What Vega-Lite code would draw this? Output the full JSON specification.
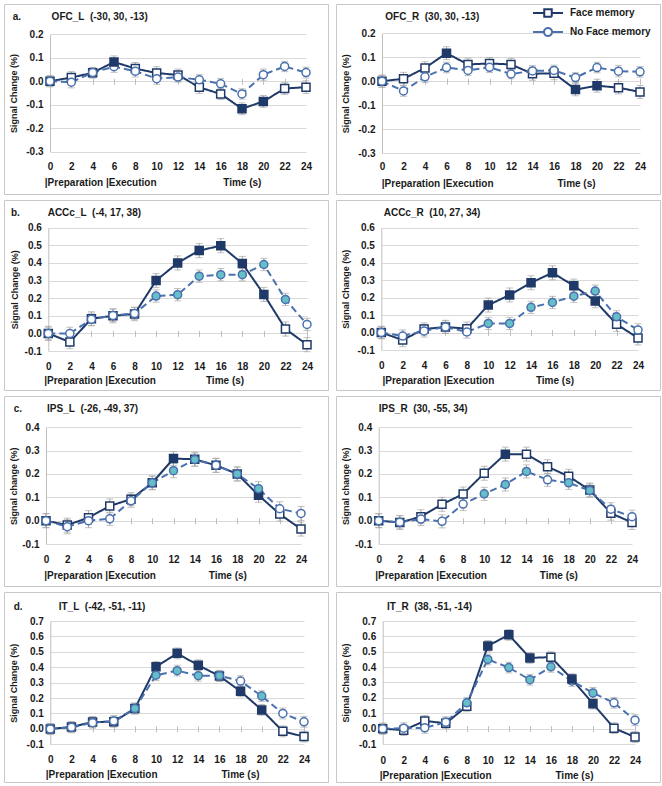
{
"$schema": "https://vega.github.io/schema/vega-lite/v6.json",
"padding": {"left": 3, "top": 3, "right": 0, "bottom": 0},
"background": "white",
"spacing": 4,
"config": {
 "font": "Liberation Sans",
 "view": {"stroke": "#c8c8c8", "strokeWidth": 1},
 "axis": {"labelFont": "Liberation Sans", "labelFontSize": 10, "labelFontWeight": "bold", "labelColor": "#1a1a1a", "titleFont": "Liberation Sans", "titleFontSize": 10, "titleFontWeight": "bold", "titleColor": "#1a1a1a", "labelFlush": false, "labelOverlap": false},
 "axisY": {"titleFontSize": 9},
 "point": {"size": 64},
 "title": {"font": "Liberation Sans", "fontSize": 10, "fontWeight": "bold", "color": "#1a1a1a", "anchor": "start", "frame": "group", "offset": -18},
 "locale": {"number": {"decimal": ".", "thousands": ",", "grouping": [3], "currency": ["$", ""], "minus": "-"}}
},
"datasets": {"d": [
{"p":"OFC_L","s":"Face memory","t":0,"v":0,"se":0.024,"sig":0},
{"p":"OFC_L","s":"Face memory","t":2,"v":0.016,"se":0.025,"sig":0},
{"p":"OFC_L","s":"Face memory","t":4,"v":0.036,"se":0.022,"sig":0},
{"p":"OFC_L","s":"Face memory","t":6,"v":0.082,"se":0.026,"sig":1},
{"p":"OFC_L","s":"Face memory","t":8,"v":0.054,"se":0.026,"sig":0},
{"p":"OFC_L","s":"Face memory","t":10,"v":0.035,"se":0.027,"sig":0},
{"p":"OFC_L","s":"Face memory","t":12,"v":0.027,"se":0.025,"sig":0},
{"p":"OFC_L","s":"Face memory","t":14,"v":-0.026,"se":0.026,"sig":0},
{"p":"OFC_L","s":"Face memory","t":16,"v":-0.054,"se":0.024,"sig":0},
{"p":"OFC_L","s":"Face memory","t":18,"v":-0.117,"se":0.025,"sig":1},
{"p":"OFC_L","s":"Face memory","t":20,"v":-0.086,"se":0.025,"sig":1},
{"p":"OFC_L","s":"Face memory","t":22,"v":-0.031,"se":0.025,"sig":0},
{"p":"OFC_L","s":"Face memory","t":24,"v":-0.025,"se":0.027,"sig":0},
{"p":"OFC_L","s":"No Face memory","t":0,"v":0,"se":0.022,"sig":0},
{"p":"OFC_L","s":"No Face memory","t":2,"v":-0.004,"se":0.024,"sig":0},
{"p":"OFC_L","s":"No Face memory","t":4,"v":0.037,"se":0.022,"sig":0},
{"p":"OFC_L","s":"No Face memory","t":6,"v":0.062,"se":0.024,"sig":0},
{"p":"OFC_L","s":"No Face memory","t":8,"v":0.043,"se":0.025,"sig":0},
{"p":"OFC_L","s":"No Face memory","t":10,"v":0.011,"se":0.024,"sig":0},
{"p":"OFC_L","s":"No Face memory","t":12,"v":0.018,"se":0.022,"sig":0},
{"p":"OFC_L","s":"No Face memory","t":14,"v":0.006,"se":0.022,"sig":0},
{"p":"OFC_L","s":"No Face memory","t":16,"v":-0.011,"se":0.023,"sig":0},
{"p":"OFC_L","s":"No Face memory","t":18,"v":-0.054,"se":0.022,"sig":0},
{"p":"OFC_L","s":"No Face memory","t":20,"v":0.028,"se":0.024,"sig":0},
{"p":"OFC_L","s":"No Face memory","t":22,"v":0.063,"se":0.022,"sig":0},
{"p":"OFC_L","s":"No Face memory","t":24,"v":0.037,"se":0.023,"sig":0},
{"p":"OFC_R","s":"Face memory","t":0,"v":0,"se":0.026,"sig":0},
{"p":"OFC_R","s":"Face memory","t":2,"v":0.01,"se":0.027,"sig":0},
{"p":"OFC_R","s":"Face memory","t":4,"v":0.055,"se":0.026,"sig":0},
{"p":"OFC_R","s":"Face memory","t":6,"v":0.117,"se":0.027,"sig":1},
{"p":"OFC_R","s":"Face memory","t":8,"v":0.07,"se":0.026,"sig":0},
{"p":"OFC_R","s":"Face memory","t":10,"v":0.074,"se":0.025,"sig":0},
{"p":"OFC_R","s":"Face memory","t":12,"v":0.07,"se":0.025,"sig":0},
{"p":"OFC_R","s":"Face memory","t":14,"v":0.031,"se":0.027,"sig":0},
{"p":"OFC_R","s":"Face memory","t":16,"v":0.033,"se":0.027,"sig":0},
{"p":"OFC_R","s":"Face memory","t":18,"v":-0.035,"se":0.026,"sig":1},
{"p":"OFC_R","s":"Face memory","t":20,"v":-0.019,"se":0.027,"sig":1},
{"p":"OFC_R","s":"Face memory","t":22,"v":-0.027,"se":0.026,"sig":0},
{"p":"OFC_R","s":"Face memory","t":24,"v":-0.045,"se":0.027,"sig":0},
{"p":"OFC_R","s":"No Face memory","t":0,"v":0,"se":0.024,"sig":0},
{"p":"OFC_R","s":"No Face memory","t":2,"v":-0.041,"se":0.022,"sig":0},
{"p":"OFC_R","s":"No Face memory","t":4,"v":0.018,"se":0.024,"sig":0},
{"p":"OFC_R","s":"No Face memory","t":6,"v":0.057,"se":0.022,"sig":0},
{"p":"OFC_R","s":"No Face memory","t":8,"v":0.045,"se":0.022,"sig":0},
{"p":"OFC_R","s":"No Face memory","t":10,"v":0.058,"se":0.022,"sig":0},
{"p":"OFC_R","s":"No Face memory","t":12,"v":0.03,"se":0.02,"sig":0},
{"p":"OFC_R","s":"No Face memory","t":14,"v":0.043,"se":0.022,"sig":0},
{"p":"OFC_R","s":"No Face memory","t":16,"v":0.045,"se":0.022,"sig":0},
{"p":"OFC_R","s":"No Face memory","t":18,"v":0.015,"se":0.02,"sig":0},
{"p":"OFC_R","s":"No Face memory","t":20,"v":0.057,"se":0.022,"sig":0},
{"p":"OFC_R","s":"No Face memory","t":22,"v":0.042,"se":0.024,"sig":0},
{"p":"OFC_R","s":"No Face memory","t":24,"v":0.039,"se":0.022,"sig":0},
{"p":"ACCc_L","s":"Face memory","t":0,"v":0,"se":0.04,"sig":0},
{"p":"ACCc_L","s":"Face memory","t":2,"v":-0.049,"se":0.038,"sig":0},
{"p":"ACCc_L","s":"Face memory","t":4,"v":0.083,"se":0.04,"sig":0},
{"p":"ACCc_L","s":"Face memory","t":6,"v":0.1,"se":0.04,"sig":0},
{"p":"ACCc_L","s":"Face memory","t":8,"v":0.11,"se":0.038,"sig":0},
{"p":"ACCc_L","s":"Face memory","t":10,"v":0.3,"se":0.04,"sig":1},
{"p":"ACCc_L","s":"Face memory","t":12,"v":0.4,"se":0.04,"sig":1},
{"p":"ACCc_L","s":"Face memory","t":14,"v":0.47,"se":0.04,"sig":1},
{"p":"ACCc_L","s":"Face memory","t":16,"v":0.498,"se":0.04,"sig":1},
{"p":"ACCc_L","s":"Face memory","t":18,"v":0.397,"se":0.04,"sig":1},
{"p":"ACCc_L","s":"Face memory","t":20,"v":0.221,"se":0.04,"sig":1},
{"p":"ACCc_L","s":"Face memory","t":22,"v":0.025,"se":0.04,"sig":0},
{"p":"ACCc_L","s":"Face memory","t":24,"v":-0.064,"se":0.04,"sig":0},
{"p":"ACCc_L","s":"No Face memory","t":0,"v":0,"se":0.035,"sig":0},
{"p":"ACCc_L","s":"No Face memory","t":2,"v":0,"se":0.035,"sig":0},
{"p":"ACCc_L","s":"No Face memory","t":4,"v":0.08,"se":0.035,"sig":0},
{"p":"ACCc_L","s":"No Face memory","t":6,"v":0.102,"se":0.035,"sig":0},
{"p":"ACCc_L","s":"No Face memory","t":8,"v":0.113,"se":0.035,"sig":0},
{"p":"ACCc_L","s":"No Face memory","t":10,"v":0.212,"se":0.035,"sig":1},
{"p":"ACCc_L","s":"No Face memory","t":12,"v":0.22,"se":0.035,"sig":1},
{"p":"ACCc_L","s":"No Face memory","t":14,"v":0.325,"se":0.035,"sig":1},
{"p":"ACCc_L","s":"No Face memory","t":16,"v":0.333,"se":0.035,"sig":1},
{"p":"ACCc_L","s":"No Face memory","t":18,"v":0.333,"se":0.035,"sig":1},
{"p":"ACCc_L","s":"No Face memory","t":20,"v":0.391,"se":0.035,"sig":1},
{"p":"ACCc_L","s":"No Face memory","t":22,"v":0.193,"se":0.035,"sig":1},
{"p":"ACCc_L","s":"No Face memory","t":24,"v":0.051,"se":0.035,"sig":0},
{"p":"ACCc_R","s":"Face memory","t":0,"v":0,"se":0.035,"sig":0},
{"p":"ACCc_R","s":"Face memory","t":2,"v":-0.043,"se":0.038,"sig":0},
{"p":"ACCc_R","s":"Face memory","t":4,"v":0.02,"se":0.035,"sig":0},
{"p":"ACCc_R","s":"Face memory","t":6,"v":0.032,"se":0.038,"sig":0},
{"p":"ACCc_R","s":"Face memory","t":8,"v":0.022,"se":0.038,"sig":0},
{"p":"ACCc_R","s":"Face memory","t":10,"v":0.157,"se":0.04,"sig":1},
{"p":"ACCc_R","s":"Face memory","t":12,"v":0.215,"se":0.04,"sig":1},
{"p":"ACCc_R","s":"Face memory","t":14,"v":0.285,"se":0.04,"sig":1},
{"p":"ACCc_R","s":"Face memory","t":16,"v":0.342,"se":0.04,"sig":1},
{"p":"ACCc_R","s":"Face memory","t":18,"v":0.268,"se":0.038,"sig":1},
{"p":"ACCc_R","s":"Face memory","t":20,"v":0.18,"se":0.038,"sig":1},
{"p":"ACCc_R","s":"Face memory","t":22,"v":0.047,"se":0.04,"sig":0},
{"p":"ACCc_R","s":"Face memory","t":24,"v":-0.031,"se":0.04,"sig":0},
{"p":"ACCc_R","s":"No Face memory","t":0,"v":0,"se":0.035,"sig":0},
{"p":"ACCc_R","s":"No Face memory","t":2,"v":-0.02,"se":0.035,"sig":0},
{"p":"ACCc_R","s":"No Face memory","t":4,"v":0.009,"se":0.035,"sig":0},
{"p":"ACCc_R","s":"No Face memory","t":6,"v":0.032,"se":0.035,"sig":0},
{"p":"ACCc_R","s":"No Face memory","t":8,"v":0.003,"se":0.035,"sig":0},
{"p":"ACCc_R","s":"No Face memory","t":10,"v":0.052,"se":0.035,"sig":1},
{"p":"ACCc_R","s":"No Face memory","t":12,"v":0.052,"se":0.035,"sig":1},
{"p":"ACCc_R","s":"No Face memory","t":14,"v":0.144,"se":0.035,"sig":1},
{"p":"ACCc_R","s":"No Face memory","t":16,"v":0.172,"se":0.035,"sig":1},
{"p":"ACCc_R","s":"No Face memory","t":18,"v":0.208,"se":0.035,"sig":1},
{"p":"ACCc_R","s":"No Face memory","t":20,"v":0.237,"se":0.035,"sig":1},
{"p":"ACCc_R","s":"No Face memory","t":22,"v":0.09,"se":0.035,"sig":1},
{"p":"ACCc_R","s":"No Face memory","t":24,"v":0.015,"se":0.035,"sig":0},
{"p":"IPS_L","s":"Face memory","t":0,"v":0,"se":0.03,"sig":0},
{"p":"IPS_L","s":"Face memory","t":2,"v":-0.019,"se":0.03,"sig":0},
{"p":"IPS_L","s":"Face memory","t":4,"v":0.013,"se":0.03,"sig":0},
{"p":"IPS_L","s":"Face memory","t":6,"v":0.063,"se":0.03,"sig":0},
{"p":"IPS_L","s":"Face memory","t":8,"v":0.092,"se":0.028,"sig":0},
{"p":"IPS_L","s":"Face memory","t":10,"v":0.162,"se":0.03,"sig":0},
{"p":"IPS_L","s":"Face memory","t":12,"v":0.266,"se":0.03,"sig":1},
{"p":"IPS_L","s":"Face memory","t":14,"v":0.263,"se":0.03,"sig":0},
{"p":"IPS_L","s":"Face memory","t":16,"v":0.237,"se":0.03,"sig":0},
{"p":"IPS_L","s":"Face memory","t":18,"v":0.2,"se":0.03,"sig":0},
{"p":"IPS_L","s":"Face memory","t":20,"v":0.109,"se":0.03,"sig":1},
{"p":"IPS_L","s":"Face memory","t":22,"v":0.028,"se":0.03,"sig":0},
{"p":"IPS_L","s":"Face memory","t":24,"v":-0.036,"se":0.03,"sig":0},
{"p":"IPS_L","s":"No Face memory","t":0,"v":0,"se":0.03,"sig":0},
{"p":"IPS_L","s":"No Face memory","t":2,"v":-0.026,"se":0.03,"sig":0},
{"p":"IPS_L","s":"No Face memory","t":4,"v":0,"se":0.03,"sig":0},
{"p":"IPS_L","s":"No Face memory","t":6,"v":0.008,"se":0.028,"sig":0},
{"p":"IPS_L","s":"No Face memory","t":8,"v":0.085,"se":0.028,"sig":0},
{"p":"IPS_L","s":"No Face memory","t":10,"v":0.162,"se":0.028,"sig":1},
{"p":"IPS_L","s":"No Face memory","t":12,"v":0.214,"se":0.03,"sig":1},
{"p":"IPS_L","s":"No Face memory","t":14,"v":0.262,"se":0.028,"sig":1},
{"p":"IPS_L","s":"No Face memory","t":16,"v":0.237,"se":0.03,"sig":0},
{"p":"IPS_L","s":"No Face memory","t":18,"v":0.2,"se":0.03,"sig":1},
{"p":"IPS_L","s":"No Face memory","t":20,"v":0.137,"se":0.03,"sig":1},
{"p":"IPS_L","s":"No Face memory","t":22,"v":0.051,"se":0.03,"sig":0},
{"p":"IPS_L","s":"No Face memory","t":24,"v":0.031,"se":0.03,"sig":0},
{"p":"IPS_R","s":"Face memory","t":0,"v":0,"se":0.03,"sig":0},
{"p":"IPS_R","s":"Face memory","t":2,"v":-0.008,"se":0.03,"sig":0},
{"p":"IPS_R","s":"Face memory","t":4,"v":0.017,"se":0.03,"sig":0},
{"p":"IPS_R","s":"Face memory","t":6,"v":0.07,"se":0.03,"sig":0},
{"p":"IPS_R","s":"Face memory","t":8,"v":0.114,"se":0.03,"sig":0},
{"p":"IPS_R","s":"Face memory","t":10,"v":0.203,"se":0.03,"sig":0},
{"p":"IPS_R","s":"Face memory","t":12,"v":0.285,"se":0.03,"sig":1},
{"p":"IPS_R","s":"Face memory","t":14,"v":0.285,"se":0.03,"sig":0},
{"p":"IPS_R","s":"Face memory","t":16,"v":0.231,"se":0.03,"sig":0},
{"p":"IPS_R","s":"Face memory","t":18,"v":0.19,"se":0.03,"sig":0},
{"p":"IPS_R","s":"Face memory","t":20,"v":0.131,"se":0.03,"sig":0},
{"p":"IPS_R","s":"Face memory","t":22,"v":0.032,"se":0.03,"sig":0},
{"p":"IPS_R","s":"Face memory","t":24,"v":-0.008,"se":0.03,"sig":0},
{"p":"IPS_R","s":"No Face memory","t":0,"v":0,"se":0.03,"sig":0},
{"p":"IPS_R","s":"No Face memory","t":2,"v":-0.007,"se":0.028,"sig":0},
{"p":"IPS_R","s":"No Face memory","t":4,"v":0.007,"se":0.028,"sig":0},
{"p":"IPS_R","s":"No Face memory","t":6,"v":-0.003,"se":0.028,"sig":0},
{"p":"IPS_R","s":"No Face memory","t":8,"v":0.071,"se":0.028,"sig":0},
{"p":"IPS_R","s":"No Face memory","t":10,"v":0.115,"se":0.028,"sig":1},
{"p":"IPS_R","s":"No Face memory","t":12,"v":0.155,"se":0.028,"sig":1},
{"p":"IPS_R","s":"No Face memory","t":14,"v":0.211,"se":0.028,"sig":1},
{"p":"IPS_R","s":"No Face memory","t":16,"v":0.175,"se":0.028,"sig":0},
{"p":"IPS_R","s":"No Face memory","t":18,"v":0.162,"se":0.028,"sig":1},
{"p":"IPS_R","s":"No Face memory","t":20,"v":0.129,"se":0.028,"sig":1},
{"p":"IPS_R","s":"No Face memory","t":22,"v":0.049,"se":0.028,"sig":0},
{"p":"IPS_R","s":"No Face memory","t":24,"v":0.017,"se":0.028,"sig":0},
{"p":"IT_L","s":"Face memory","t":0,"v":0,"se":0.035,"sig":0},
{"p":"IT_L","s":"Face memory","t":2,"v":0.012,"se":0.035,"sig":0},
{"p":"IT_L","s":"Face memory","t":4,"v":0.045,"se":0.035,"sig":0},
{"p":"IT_L","s":"Face memory","t":6,"v":0.046,"se":0.035,"sig":0},
{"p":"IT_L","s":"Face memory","t":8,"v":0.132,"se":0.035,"sig":0},
{"p":"IT_L","s":"Face memory","t":10,"v":0.403,"se":0.035,"sig":1},
{"p":"IT_L","s":"Face memory","t":12,"v":0.49,"se":0.035,"sig":1},
{"p":"IT_L","s":"Face memory","t":14,"v":0.413,"se":0.035,"sig":1},
{"p":"IT_L","s":"Face memory","t":16,"v":0.343,"se":0.035,"sig":0},
{"p":"IT_L","s":"Face memory","t":18,"v":0.244,"se":0.035,"sig":1},
{"p":"IT_L","s":"Face memory","t":20,"v":0.123,"se":0.035,"sig":1},
{"p":"IT_L","s":"Face memory","t":22,"v":-0.016,"se":0.035,"sig":0},
{"p":"IT_L","s":"Face memory","t":24,"v":-0.05,"se":0.035,"sig":0},
{"p":"IT_L","s":"No Face memory","t":0,"v":0,"se":0.035,"sig":0},
{"p":"IT_L","s":"No Face memory","t":2,"v":0.01,"se":0.035,"sig":0},
{"p":"IT_L","s":"No Face memory","t":4,"v":0.04,"se":0.035,"sig":0},
{"p":"IT_L","s":"No Face memory","t":6,"v":0.051,"se":0.035,"sig":0},
{"p":"IT_L","s":"No Face memory","t":8,"v":0.132,"se":0.035,"sig":1},
{"p":"IT_L","s":"No Face memory","t":10,"v":0.348,"se":0.035,"sig":1},
{"p":"IT_L","s":"No Face memory","t":12,"v":0.378,"se":0.035,"sig":1},
{"p":"IT_L","s":"No Face memory","t":14,"v":0.345,"se":0.035,"sig":1},
{"p":"IT_L","s":"No Face memory","t":16,"v":0.345,"se":0.035,"sig":1},
{"p":"IT_L","s":"No Face memory","t":18,"v":0.31,"se":0.035,"sig":0},
{"p":"IT_L","s":"No Face memory","t":20,"v":0.213,"se":0.035,"sig":1},
{"p":"IT_L","s":"No Face memory","t":22,"v":0.1,"se":0.035,"sig":0},
{"p":"IT_L","s":"No Face memory","t":24,"v":0.046,"se":0.035,"sig":0},
{"p":"IT_R","s":"Face memory","t":0,"v":0,"se":0.035,"sig":0},
{"p":"IT_R","s":"Face memory","t":2,"v":-0.01,"se":0.035,"sig":0},
{"p":"IT_R","s":"Face memory","t":4,"v":0.05,"se":0.035,"sig":0},
{"p":"IT_R","s":"Face memory","t":6,"v":0.035,"se":0.035,"sig":0},
{"p":"IT_R","s":"Face memory","t":8,"v":0.145,"se":0.035,"sig":0},
{"p":"IT_R","s":"Face memory","t":10,"v":0.538,"se":0.035,"sig":1},
{"p":"IT_R","s":"Face memory","t":12,"v":0.61,"se":0.035,"sig":1},
{"p":"IT_R","s":"Face memory","t":14,"v":0.46,"se":0.035,"sig":1},
{"p":"IT_R","s":"Face memory","t":16,"v":0.465,"se":0.035,"sig":0},
{"p":"IT_R","s":"Face memory","t":18,"v":0.322,"se":0.035,"sig":1},
{"p":"IT_R","s":"Face memory","t":20,"v":0.162,"se":0.035,"sig":1},
{"p":"IT_R","s":"Face memory","t":22,"v":0.003,"se":0.035,"sig":0},
{"p":"IT_R","s":"Face memory","t":24,"v":-0.055,"se":0.035,"sig":0},
{"p":"IT_R","s":"No Face memory","t":0,"v":0,"se":0.035,"sig":0},
{"p":"IT_R","s":"No Face memory","t":2,"v":0.003,"se":0.035,"sig":0},
{"p":"IT_R","s":"No Face memory","t":4,"v":0.005,"se":0.035,"sig":0},
{"p":"IT_R","s":"No Face memory","t":6,"v":0.042,"se":0.035,"sig":0},
{"p":"IT_R","s":"No Face memory","t":8,"v":0.168,"se":0.035,"sig":1},
{"p":"IT_R","s":"No Face memory","t":10,"v":0.45,"se":0.035,"sig":1},
{"p":"IT_R","s":"No Face memory","t":12,"v":0.397,"se":0.035,"sig":1},
{"p":"IT_R","s":"No Face memory","t":14,"v":0.318,"se":0.035,"sig":1},
{"p":"IT_R","s":"No Face memory","t":16,"v":0.402,"se":0.035,"sig":1},
{"p":"IT_R","s":"No Face memory","t":18,"v":0.31,"se":0.035,"sig":0},
{"p":"IT_R","s":"No Face memory","t":20,"v":0.232,"se":0.035,"sig":1},
{"p":"IT_R","s":"No Face memory","t":22,"v":0.168,"se":0.035,"sig":0},
{"p":"IT_R","s":"No Face memory","t":24,"v":0.055,"se":0.035,"sig":0}
]},
"resolve": {"scale": {"stroke": "independent", "fill": "independent", "shape": "independent", "strokeDash": "independent"}},
"vconcat": [
{"hconcat": [
 {"width": 324, "height": 190, "data": {"name": "d"},
  "title": {"text": "a.\u00a0\u00a0\u00a0\u00a0\u00a0\u00a0\u00a0\u00a0\u00a0\u00a0\u00a0OFC_L\u00a0\u00a0(-30, 30, -13)", "dx": 8.7},
  "transform": [{"filter": "datum.p === 'OFC_L'"}],
  "encoding": {
   "x": {"field": "t", "type": "quantitative", "scale": {"domain": [0, 24], "range": [46, 302], "nice": false, "zero": false}},
   "y": {"field": "v", "type": "quantitative", "scale": {"domain": [-0.3, 0.2], "range": [147.7, 30.3], "nice": false, "zero": false},
     "axis": {"orient": "left", "offset": -46, "values": [-0.3,-0.2,-0.1,0,0.1,0.2], "format": ".1f", "grid": true, "gridColor": "#d9d9d9", "domain": true, "domainColor": "#bfbfbf", "ticks": false, "tickSize": 0, "labelPadding": 7, "title": "Signal Change (%)", "titleX": -37, "titleBaseline": "middle"}}
  },
  "layer": [
   {"mark": {"type": "errorbar", "color": "#a6a6a6", "thickness": 1, "ticks": {"size": 7}},
    "encoding": {"x": {"field": "t", "type": "quantitative", "axis": {"orient": "bottom", "labels": false, "ticks": false, "domain": false, "grid": false, "title": null}}, "yError": {"field": "se"}}},
   {"mark": {"type": "line", "strokeWidth": 2},
    "encoding": {"x": {"field": "t", "type": "quantitative",
      "axis": {"orient": "bottom", "offset": -28, "values": [0,2,4,6,8,10,12,14,16,18,20,22,24], "domain": false, "ticks": false, "tickSize": 0, "grid": false, "labelPadding": 0, "labelBaseline": "middle", "title": "|Preparation |Execution\u00a0\u00a0\u00a0\u00a0\u00a0\u00a0\u00a0\u00a0\u00a0\u00a0\u00a0\u00a0\u00a0\u00a0\u00a0\u00a0\u00a0\u00a0\u00a0\u00a0\u00a0\u00a0\u00a0\u00a0Time (s)", "titleX": 40.3, "titleY": 16.7, "titleAlign": "left", "titleAnchor": "start", "titleBaseline": "middle"}},
     "stroke": {"field": "s", "type": "nominal", "scale": {"domain": ["Face memory", "No Face memory"], "range": ["#1f3a68", "#4a70ae"]}, "legend": null},
     "strokeDash": {"field": "s", "type": "nominal", "scale": {"domain": ["No Face memory", "Face memory"], "range": [[7,4],[1,0]]}, "legend": null}}},
   {"transform": [{"filter": "datum.sig == 0"}],
    "mark": {"type": "point", "filled": true, "fill": "white", "opacity": 1, "strokeWidth": 1.5},
    "encoding": {"x": {"field": "t", "type": "quantitative",
      "axis": {"orient": "bottom", "offset": -115.7, "values": [0,2,4,6,8,10,12,14,16,18,20,22,24], "labels": false, "domain": false, "grid": false, "ticks": true, "tickSize": 6, "tickColor": "#bfbfbf", "title": null}},
     "shape": {"field": "s", "type": "nominal", "scale": {"domain": ["No Face memory", "Face memory"], "range": ["circle", "square"]}, "legend": null},
     "stroke": {"field": "s", "type": "nominal", "scale": {"domain": ["Face memory", "No Face memory"], "range": ["#1f3a68", "#4a70ae"]}, "legend": null}}},
   {"transform": [{"filter": "datum.sig == 1"}],
    "mark": {"type": "point", "filled": true, "opacity": 1, "strokeWidth": 1.5},
    "encoding": {"x": {"field": "t", "type": "quantitative", "axis": {"orient": "bottom", "labels": false, "ticks": false, "domain": false, "grid": false, "title": null}},
     "shape": {"field": "s", "type": "nominal", "scale": {"domain": ["No Face memory", "Face memory"], "range": ["circle", "square"]}, "legend": null},
     "stroke": {"field": "s", "type": "nominal", "scale": {"domain": ["Face memory", "No Face memory"], "range": ["#1f3a68", "#4a70ae"]}, "legend": null},
     "fill": {"field": "s", "type": "nominal", "scale": {"domain": ["No Face memory", "Face memory"], "range": ["#66bec8", "#1f3a68"]}, "legend": null}}}
  ],
  "resolve": {"axis": {"x": "independent"}}
 },
 {"width": 324, "height": 190, "data": {"name": "d"},
  "title": {"text": "OFC_R\u00a0\u00a0(30, 30, -13)", "dx": 49.3},
  "transform": [{"filter": "datum.p === 'OFC_R'"}],
  "encoding": {
   "x": {"field": "t", "type": "quantitative", "scale": {"domain": [0, 24], "range": [46, 304], "nice": false, "zero": false}},
   "y": {"field": "v", "type": "quantitative", "scale": {"domain": [-0.3, 0.2], "range": [149, 29.3], "nice": false, "zero": false},
     "axis": {"orient": "left", "offset": -46, "values": [-0.3,-0.2,-0.1,0,0.1,0.2], "format": ".1f", "grid": true, "gridColor": "#d9d9d9", "domain": true, "domainColor": "#bfbfbf", "ticks": false, "tickSize": 0, "labelPadding": 7, "title": "Signal Change (%)", "titleX": -37, "titleBaseline": "middle"}}
  },
  "layer": [
   {"mark": {"type": "errorbar", "color": "#a6a6a6", "thickness": 1, "ticks": {"size": 7}},
    "encoding": {"x": {"field": "t", "type": "quantitative", "axis": {"orient": "bottom", "labels": false, "ticks": false, "domain": false, "grid": false, "title": null}}, "yError": {"field": "se"}}},
   {"mark": {"type": "line", "strokeWidth": 2},
    "encoding": {"x": {"field": "t", "type": "quantitative",
      "axis": {"orient": "bottom", "offset": -27.3, "values": [0,2,4,6,8,10,12,14,16,18,20,22,24], "domain": false, "ticks": false, "tickSize": 0, "grid": false, "labelPadding": 0, "labelBaseline": "middle", "title": "|Preparation |Execution\u00a0\u00a0\u00a0\u00a0\u00a0\u00a0\u00a0\u00a0\u00a0\u00a0\u00a0\u00a0\u00a0\u00a0\u00a0\u00a0\u00a0\u00a0\u00a0\u00a0\u00a0\u00a0\u00a0Time (s)", "titleX": 45.3, "titleY": 17, "titleAlign": "left", "titleAnchor": "start", "titleBaseline": "middle"}},
     "stroke": {"field": "s", "type": "nominal", "scale": {"domain": ["Face memory", "No Face memory"], "range": ["#1f3a68", "#4a70ae"]},
      "legend": {"orient": "none", "legendX": 206, "legendY": 3, "title": null, "padding": 0, "symbolSize": 100, "symbolStrokeWidth": 2, "labelOffset": 16, "labelFontSize": 10, "labelFont": "Liberation Sans", "labelFontWeight": "bold", "labelColor": "#1a1a1a", "rowPadding": 3,
       "encode": {"symbols": {"update": {"shape": {"signal": "datum.value === 'Face memory' ? 'M-3,0H-0.75M0.75,0H3M-0.75,-0.75H0.75V0.75H-0.75Z' : 'M-3,0H-0.8M0.8,0H3M0.8,0A0.8,0.8,0,1,1,-0.8,0A0.8,0.8,0,1,1,0.8,0Z'"}, "fill": {"value": "white"}, "strokeDash": {"value": [1,0]}}}}}},
     "strokeDash": {"field": "s", "type": "nominal", "scale": {"domain": ["No Face memory", "Face memory"], "range": [[7,4],[1,0]]}, "legend": null}}},
   {"transform": [{"filter": "datum.sig == 0"}],
    "mark": {"type": "point", "filled": true, "fill": "white", "opacity": 1, "strokeWidth": 1.5},
    "encoding": {"x": {"field": "t", "type": "quantitative",
      "axis": {"orient": "bottom", "offset": -115.8, "values": [0,2,4,6,8,10,12,14,16,18,20,22,24], "labels": false, "domain": false, "grid": false, "ticks": true, "tickSize": 6, "tickColor": "#bfbfbf", "title": null}},
     "shape": {"field": "s", "type": "nominal", "scale": {"domain": ["No Face memory", "Face memory"], "range": ["circle", "square"]}, "legend": null},
     "stroke": {"field": "s", "type": "nominal", "scale": {"domain": ["Face memory", "No Face memory"], "range": ["#1f3a68", "#4a70ae"]}, "legend": null}}},
   {"transform": [{"filter": "datum.sig == 1"}],
    "mark": {"type": "point", "filled": true, "opacity": 1, "strokeWidth": 1.5},
    "encoding": {"x": {"field": "t", "type": "quantitative", "axis": {"orient": "bottom", "labels": false, "ticks": false, "domain": false, "grid": false, "title": null}},
     "shape": {"field": "s", "type": "nominal", "scale": {"domain": ["No Face memory", "Face memory"], "range": ["circle", "square"]}, "legend": null},
     "stroke": {"field": "s", "type": "nominal", "scale": {"domain": ["Face memory", "No Face memory"], "range": ["#1f3a68", "#4a70ae"]}, "legend": null},
     "fill": {"field": "s", "type": "nominal", "scale": {"domain": ["No Face memory", "Face memory"], "range": ["#66bec8", "#1f3a68"]}, "legend": null}}}
  ],
  "resolve": {"axis": {"x": "independent"}}
 }
], "spacing": 6, "resolve": {"scale": {"stroke": "independent", "fill": "independent", "shape": "independent", "strokeDash": "independent"}}},
{"hconcat": [
 {"width": 324, "height": 190, "data": {"name": "d"},
  "title": {"text": "b.\u00a0\u00a0\u00a0\u00a0\u00a0\u00a0\u00a0\u00a0\u00a0\u00a0ACCc_L\u00a0\u00a0(-4, 17, 38)", "dx": 7},
  "transform": [{"filter": "datum.p === 'ACCc_L'"}],
  "encoding": {
   "x": {"field": "t", "type": "quantitative", "scale": {"domain": [0, 24], "range": [44.3, 303], "nice": false, "zero": false}},
   "y": {"field": "v", "type": "quantitative", "scale": {"domain": [-0.1, 0.6], "range": [151, 27.7], "nice": false, "zero": false},
     "axis": {"orient": "left", "offset": -44.3, "values": [-0.1,0,0.1,0.2,0.3,0.4,0.5,0.6], "format": ".1f", "grid": true, "gridColor": "#d9d9d9", "domain": true, "domainColor": "#bfbfbf", "ticks": false, "tickSize": 0, "labelPadding": 7, "title": "Signal Change (%)", "titleX": -34, "titleBaseline": "middle"}}
  },
  "layer": [
   {"mark": {"type": "errorbar", "color": "#a6a6a6", "thickness": 1, "ticks": {"size": 7}},
    "encoding": {"x": {"field": "t", "type": "quantitative", "axis": {"orient": "bottom", "labels": false, "ticks": false, "domain": false, "grid": false, "title": null}}, "yError": {"field": "se"}}},
   {"mark": {"type": "line", "strokeWidth": 2},
    "encoding": {"x": {"field": "t", "type": "quantitative",
      "axis": {"orient": "bottom", "offset": -24, "values": [0,2,4,6,8,10,12,14,16,18,20,22,24], "domain": false, "ticks": false, "tickSize": 0, "grid": false, "labelPadding": 0, "labelBaseline": "middle", "title": "|Preparation |Execution\u00a0\u00a0\u00a0\u00a0\u00a0\u00a0\u00a0\u00a0\u00a0\u00a0\u00a0\u00a0\u00a0\u00a0\u00a0\u00a0\u00a0\u00a0Time (s)", "titleX": 39.7, "titleY": 14.3, "titleAlign": "left", "titleAnchor": "start", "titleBaseline": "middle"}},
     "stroke": {"field": "s", "type": "nominal", "scale": {"domain": ["Face memory", "No Face memory"], "range": ["#1f3a68", "#4a70ae"]}, "legend": null},
     "strokeDash": {"field": "s", "type": "nominal", "scale": {"domain": ["No Face memory", "Face memory"], "range": [[7,4],[1,0]]}, "legend": null}}},
   {"transform": [{"filter": "datum.sig == 0"}],
    "mark": {"type": "point", "filled": true, "fill": "white", "opacity": 1, "strokeWidth": 1.5},
    "encoding": {"x": {"field": "t", "type": "quantitative",
      "axis": {"orient": "bottom", "offset": -59.6, "values": [0,2,4,6,8,10,12,14,16,18,20,22,24], "labels": false, "domain": false, "grid": false, "ticks": true, "tickSize": 6, "tickColor": "#bfbfbf", "title": null}},
     "shape": {"field": "s", "type": "nominal", "scale": {"domain": ["No Face memory", "Face memory"], "range": ["circle", "square"]}, "legend": null},
     "stroke": {"field": "s", "type": "nominal", "scale": {"domain": ["Face memory", "No Face memory"], "range": ["#1f3a68", "#4a70ae"]}, "legend": null}}},
   {"transform": [{"filter": "datum.sig == 1"}],
    "mark": {"type": "point", "filled": true, "opacity": 1, "strokeWidth": 1.5},
    "encoding": {"x": {"field": "t", "type": "quantitative", "axis": {"orient": "bottom", "labels": false, "ticks": false, "domain": false, "grid": false, "title": null}},
     "shape": {"field": "s", "type": "nominal", "scale": {"domain": ["No Face memory", "Face memory"], "range": ["circle", "square"]}, "legend": null},
     "stroke": {"field": "s", "type": "nominal", "scale": {"domain": ["Face memory", "No Face memory"], "range": ["#1f3a68", "#4a70ae"]}, "legend": null},
     "fill": {"field": "s", "type": "nominal", "scale": {"domain": ["No Face memory", "Face memory"], "range": ["#66bec8", "#1f3a68"]}, "legend": null}}}
  ],
  "resolve": {"axis": {"x": "independent"}}
 },
 {"width": 324, "height": 190, "data": {"name": "d"},
  "title": {"text": "ACCc_R\u00a0\u00a0(10, 27, 34)", "dx": 47.7},
  "transform": [{"filter": "datum.p === 'ACCc_R'"}],
  "encoding": {
   "x": {"field": "t", "type": "quantitative", "scale": {"domain": [0, 24], "range": [45.3, 302], "nice": false, "zero": false}},
   "y": {"field": "v", "type": "quantitative", "scale": {"domain": [-0.1, 0.6], "range": [150, 27.7], "nice": false, "zero": false},
     "axis": {"orient": "left", "offset": -45.3, "values": [-0.1,0,0.1,0.2,0.3,0.4,0.5,0.6], "format": ".1f", "grid": true, "gridColor": "#d9d9d9", "domain": true, "domainColor": "#bfbfbf", "ticks": false, "tickSize": 0, "labelPadding": 7, "title": "Signal Change (%)", "titleX": -36, "titleBaseline": "middle"}}
  },
  "layer": [
   {"mark": {"type": "errorbar", "color": "#a6a6a6", "thickness": 1, "ticks": {"size": 7}},
    "encoding": {"x": {"field": "t", "type": "quantitative", "axis": {"orient": "bottom", "labels": false, "ticks": false, "domain": false, "grid": false, "title": null}}, "yError": {"field": "se"}}},
   {"mark": {"type": "line", "strokeWidth": 2},
    "encoding": {"x": {"field": "t", "type": "quantitative",
      "axis": {"orient": "bottom", "offset": -24.7, "values": [0,2,4,6,8,10,12,14,16,18,20,22,24], "domain": false, "ticks": false, "tickSize": 0, "grid": false, "labelPadding": 0, "labelBaseline": "middle", "title": "|Preparation |Execution\u00a0\u00a0\u00a0\u00a0\u00a0\u00a0\u00a0\u00a0\u00a0\u00a0\u00a0\u00a0\u00a0\u00a0\u00a0Time (s)", "titleX": 46, "titleY": 14.7, "titleAlign": "left", "titleAnchor": "start", "titleBaseline": "middle"}},
     "stroke": {"field": "s", "type": "nominal", "scale": {"domain": ["Face memory", "No Face memory"], "range": ["#1f3a68", "#4a70ae"]}, "legend": null},
     "strokeDash": {"field": "s", "type": "nominal", "scale": {"domain": ["No Face memory", "Face memory"], "range": [[7,4],[1,0]]}, "legend": null}}},
   {"transform": [{"filter": "datum.sig == 0"}],
    "mark": {"type": "point", "filled": true, "fill": "white", "opacity": 1, "strokeWidth": 1.5},
    "encoding": {"x": {"field": "t", "type": "quantitative",
      "axis": {"orient": "bottom", "offset": -60.5, "values": [0,2,4,6,8,10,12,14,16,18,20,22,24], "labels": false, "domain": false, "grid": false, "ticks": true, "tickSize": 6, "tickColor": "#bfbfbf", "title": null}},
     "shape": {"field": "s", "type": "nominal", "scale": {"domain": ["No Face memory", "Face memory"], "range": ["circle", "square"]}, "legend": null},
     "stroke": {"field": "s", "type": "nominal", "scale": {"domain": ["Face memory", "No Face memory"], "range": ["#1f3a68", "#4a70ae"]}, "legend": null}}},
   {"transform": [{"filter": "datum.sig == 1"}],
    "mark": {"type": "point", "filled": true, "opacity": 1, "strokeWidth": 1.5},
    "encoding": {"x": {"field": "t", "type": "quantitative", "axis": {"orient": "bottom", "labels": false, "ticks": false, "domain": false, "grid": false, "title": null}},
     "shape": {"field": "s", "type": "nominal", "scale": {"domain": ["No Face memory", "Face memory"], "range": ["circle", "square"]}, "legend": null},
     "stroke": {"field": "s", "type": "nominal", "scale": {"domain": ["Face memory", "No Face memory"], "range": ["#1f3a68", "#4a70ae"]}, "legend": null},
     "fill": {"field": "s", "type": "nominal", "scale": {"domain": ["No Face memory", "Face memory"], "range": ["#66bec8", "#1f3a68"]}, "legend": null}}}
  ],
  "resolve": {"axis": {"x": "independent"}}
 }
], "spacing": 6, "resolve": {"scale": {"stroke": "independent", "fill": "independent", "shape": "independent", "strokeDash": "independent"}}},
{"hconcat": [
 {"width": 324, "height": 190, "data": {"name": "d"},
  "title": {"text": "c.\u00a0\u00a0\u00a0\u00a0\u00a0\u00a0\u00a0\u00a0\u00a0IPS_L\u00a0\u00a0(-26, -49, 37)", "dx": 9.7},
  "transform": [{"filter": "datum.p === 'IPS_L'"}],
  "encoding": {
   "x": {"field": "t", "type": "quantitative", "scale": {"domain": [0, 24], "range": [42, 297], "nice": false, "zero": false}},
   "y": {"field": "v", "type": "quantitative", "scale": {"domain": [-0.1, 0.4], "range": [148, 31.3], "nice": false, "zero": false},
     "axis": {"orient": "left", "offset": -42, "values": [-0.1,0,0.1,0.2,0.3,0.4], "format": ".1f", "grid": true, "gridColor": "#d9d9d9", "domain": true, "domainColor": "#bfbfbf", "ticks": false, "tickSize": 0, "labelPadding": 7, "title": "Signal change (%)", "titleX": -32.5, "titleBaseline": "middle"}}
  },
  "layer": [
   {"mark": {"type": "errorbar", "color": "#a6a6a6", "thickness": 1, "ticks": {"size": 7}},
    "encoding": {"x": {"field": "t", "type": "quantitative", "axis": {"orient": "bottom", "labels": false, "ticks": false, "domain": false, "grid": false, "title": null}}, "yError": {"field": "se"}}},
   {"mark": {"type": "line", "strokeWidth": 2},
    "encoding": {"x": {"field": "t", "type": "quantitative",
      "axis": {"orient": "bottom", "offset": -26.7, "values": [0,2,4,6,8,10,12,14,16,18,20,22,24], "domain": false, "ticks": false, "tickSize": 0, "grid": false, "labelPadding": 0, "labelBaseline": "middle", "title": "|Preparation |Execution\u00a0\u00a0\u00a0\u00a0\u00a0\u00a0\u00a0\u00a0\u00a0\u00a0\u00a0\u00a0\u00a0\u00a0\u00a0\u00a0\u00a0\u00a0\u00a0Time (s)", "titleX": 39.7, "titleY": 16.4, "titleAlign": "left", "titleAnchor": "start", "titleBaseline": "middle"}},
     "stroke": {"field": "s", "type": "nominal", "scale": {"domain": ["Face memory", "No Face memory"], "range": ["#1f3a68", "#4a70ae"]}, "legend": null},
     "strokeDash": {"field": "s", "type": "nominal", "scale": {"domain": ["No Face memory", "Face memory"], "range": [[7,4],[1,0]]}, "legend": null}}},
   {"transform": [{"filter": "datum.sig == 0"}],
    "mark": {"type": "point", "filled": true, "fill": "white", "opacity": 1, "strokeWidth": 1.5},
    "encoding": {"x": {"field": "t", "type": "quantitative",
      "axis": {"orient": "bottom", "offset": -68.3, "values": [0,2,4,6,8,10,12,14,16,18,20,22,24], "labels": false, "domain": false, "grid": false, "ticks": true, "tickSize": 6, "tickColor": "#bfbfbf", "title": null}},
     "shape": {"field": "s", "type": "nominal", "scale": {"domain": ["No Face memory", "Face memory"], "range": ["circle", "square"]}, "legend": null},
     "stroke": {"field": "s", "type": "nominal", "scale": {"domain": ["Face memory", "No Face memory"], "range": ["#1f3a68", "#4a70ae"]}, "legend": null}}},
   {"transform": [{"filter": "datum.sig == 1"}],
    "mark": {"type": "point", "filled": true, "opacity": 1, "strokeWidth": 1.5},
    "encoding": {"x": {"field": "t", "type": "quantitative", "axis": {"orient": "bottom", "labels": false, "ticks": false, "domain": false, "grid": false, "title": null}},
     "shape": {"field": "s", "type": "nominal", "scale": {"domain": ["No Face memory", "Face memory"], "range": ["circle", "square"]}, "legend": null},
     "stroke": {"field": "s", "type": "nominal", "scale": {"domain": ["Face memory", "No Face memory"], "range": ["#1f3a68", "#4a70ae"]}, "legend": null},
     "fill": {"field": "s", "type": "nominal", "scale": {"domain": ["No Face memory", "Face memory"], "range": ["#66bec8", "#1f3a68"]}, "legend": null}}}
  ],
  "resolve": {"axis": {"x": "independent"}}
 },
 {"width": 324, "height": 190, "data": {"name": "d"},
  "title": {"text": "IPS_R\u00a0\u00a0(30, -55, 34)", "dx": 42.7},
  "transform": [{"filter": "datum.p === 'IPS_R'"}],
  "encoding": {
   "x": {"field": "t", "type": "quantitative", "scale": {"domain": [0, 24], "range": [42.7, 296], "nice": false, "zero": false}},
   "y": {"field": "v", "type": "quantitative", "scale": {"domain": [-0.1, 0.4], "range": [148, 31.3], "nice": false, "zero": false},
     "axis": {"orient": "left", "offset": -42.7, "values": [-0.1,0,0.1,0.2,0.3,0.4], "format": ".1f", "grid": true, "gridColor": "#d9d9d9", "domain": true, "domainColor": "#bfbfbf", "ticks": false, "tickSize": 0, "labelPadding": 7, "title": "Signal change (%)", "titleX": -33.2, "titleBaseline": "middle"}}
  },
  "layer": [
   {"mark": {"type": "errorbar", "color": "#a6a6a6", "thickness": 1, "ticks": {"size": 7}},
    "encoding": {"x": {"field": "t", "type": "quantitative", "axis": {"orient": "bottom", "labels": false, "ticks": false, "domain": false, "grid": false, "title": null}}, "yError": {"field": "se"}}},
   {"mark": {"type": "line", "strokeWidth": 2},
    "encoding": {"x": {"field": "t", "type": "quantitative",
      "axis": {"orient": "bottom", "offset": -26.7, "values": [0,2,4,6,8,10,12,14,16,18,20,22,24], "domain": false, "ticks": false, "tickSize": 0, "grid": false, "labelPadding": 0, "labelBaseline": "middle", "title": "|Preparation |Execution\u00a0\u00a0\u00a0\u00a0\u00a0\u00a0\u00a0\u00a0\u00a0\u00a0\u00a0\u00a0\u00a0\u00a0\u00a0\u00a0\u00a0\u00a0\u00a0Time (s)", "titleX": 38.7, "titleY": 16.4, "titleAlign": "left", "titleAnchor": "start", "titleBaseline": "middle"}},
     "stroke": {"field": "s", "type": "nominal", "scale": {"domain": ["Face memory", "No Face memory"], "range": ["#1f3a68", "#4a70ae"]}, "legend": null},
     "strokeDash": {"field": "s", "type": "nominal", "scale": {"domain": ["No Face memory", "Face memory"], "range": [[7,4],[1,0]]}, "legend": null}}},
   {"transform": [{"filter": "datum.sig == 0"}],
    "mark": {"type": "point", "filled": true, "fill": "white", "opacity": 1, "strokeWidth": 1.5},
    "encoding": {"x": {"field": "t", "type": "quantitative",
      "axis": {"orient": "bottom", "offset": -68.3, "values": [0,2,4,6,8,10,12,14,16,18,20,22,24], "labels": false, "domain": false, "grid": false, "ticks": true, "tickSize": 6, "tickColor": "#bfbfbf", "title": null}},
     "shape": {"field": "s", "type": "nominal", "scale": {"domain": ["No Face memory", "Face memory"], "range": ["circle", "square"]}, "legend": null},
     "stroke": {"field": "s", "type": "nominal", "scale": {"domain": ["Face memory", "No Face memory"], "range": ["#1f3a68", "#4a70ae"]}, "legend": null}}},
   {"transform": [{"filter": "datum.sig == 1"}],
    "mark": {"type": "point", "filled": true, "opacity": 1, "strokeWidth": 1.5},
    "encoding": {"x": {"field": "t", "type": "quantitative", "axis": {"orient": "bottom", "labels": false, "ticks": false, "domain": false, "grid": false, "title": null}},
     "shape": {"field": "s", "type": "nominal", "scale": {"domain": ["No Face memory", "Face memory"], "range": ["circle", "square"]}, "legend": null},
     "stroke": {"field": "s", "type": "nominal", "scale": {"domain": ["Face memory", "No Face memory"], "range": ["#1f3a68", "#4a70ae"]}, "legend": null},
     "fill": {"field": "s", "type": "nominal", "scale": {"domain": ["No Face memory", "Face memory"], "range": ["#66bec8", "#1f3a68"]}, "legend": null}}}
  ],
  "resolve": {"axis": {"x": "independent"}}
 }
], "spacing": 6, "resolve": {"scale": {"stroke": "independent", "fill": "independent", "shape": "independent", "strokeDash": "independent"}}},
{"hconcat": [
 {"width": 324, "height": 190, "data": {"name": "d"},
  "title": {"text": "d.\u00a0\u00a0\u00a0\u00a0\u00a0\u00a0\u00a0\u00a0\u00a0\u00a0\u00a0\u00a0\u00a0IT_L\u00a0\u00a0(-42, -51, -11)", "dx": 9.7, "offset": -20},
  "transform": [{"filter": "datum.p === 'IT_L'"}],
  "encoding": {
   "x": {"field": "t", "type": "quantitative", "scale": {"domain": [0, 24], "range": [46.3, 300], "nice": false, "zero": false}},
   "y": {"field": "v", "type": "quantitative", "scale": {"domain": [-0.1, 0.7], "range": [152.3, 29], "nice": false, "zero": false},
     "axis": {"orient": "left", "offset": -46.3, "values": [-0.1,0,0.1,0.2,0.3,0.4,0.5,0.6,0.7], "format": ".1f", "grid": true, "gridColor": "#d9d9d9", "domain": true, "domainColor": "#bfbfbf", "ticks": false, "tickSize": 0, "labelPadding": 7, "title": "Signal Change (%)", "titleX": -36.8, "titleBaseline": "middle"}}
  },
  "layer": [
   {"mark": {"type": "errorbar", "color": "#a6a6a6", "thickness": 1, "ticks": {"size": 7}},
    "encoding": {"x": {"field": "t", "type": "quantitative", "axis": {"orient": "bottom", "labels": false, "ticks": false, "domain": false, "grid": false, "title": null}}, "yError": {"field": "se"}}},
   {"mark": {"type": "line", "strokeWidth": 2},
    "encoding": {"x": {"field": "t", "type": "quantitative",
      "axis": {"orient": "bottom", "offset": -22.7, "values": [0,2,4,6,8,10,12,14,16,18,20,22,24], "domain": false, "ticks": false, "tickSize": 0, "grid": false, "labelPadding": 0, "labelBaseline": "middle", "title": "|Preparation |Execution\u00a0\u00a0\u00a0\u00a0\u00a0\u00a0\u00a0\u00a0\u00a0\u00a0\u00a0\u00a0\u00a0\u00a0\u00a0\u00a0\u00a0\u00a0\u00a0\u00a0\u00a0\u00a0\u00a0Time (s)", "titleX": 41.3, "titleY": 15, "titleAlign": "left", "titleAnchor": "start", "titleBaseline": "middle"}},
     "stroke": {"field": "s", "type": "nominal", "scale": {"domain": ["Face memory", "No Face memory"], "range": ["#1f3a68", "#4a70ae"]}, "legend": null},
     "strokeDash": {"field": "s", "type": "nominal", "scale": {"domain": ["No Face memory", "Face memory"], "range": [[7,4],[1,0]]}, "legend": null}}},
   {"transform": [{"filter": "datum.sig == 0"}],
    "mark": {"type": "point", "filled": true, "fill": "white", "opacity": 1, "strokeWidth": 1.5},
    "encoding": {"x": {"field": "t", "type": "quantitative",
      "axis": {"orient": "bottom", "offset": -56.1, "values": [0,2,4,6,8,10,12,14,16,18,20,22,24], "labels": false, "domain": false, "grid": false, "ticks": true, "tickSize": 6, "tickColor": "#bfbfbf", "title": null}},
     "shape": {"field": "s", "type": "nominal", "scale": {"domain": ["No Face memory", "Face memory"], "range": ["circle", "square"]}, "legend": null},
     "stroke": {"field": "s", "type": "nominal", "scale": {"domain": ["Face memory", "No Face memory"], "range": ["#1f3a68", "#4a70ae"]}, "legend": null}}},
   {"transform": [{"filter": "datum.sig == 1"}],
    "mark": {"type": "point", "filled": true, "opacity": 1, "strokeWidth": 1.5},
    "encoding": {"x": {"field": "t", "type": "quantitative", "axis": {"orient": "bottom", "labels": false, "ticks": false, "domain": false, "grid": false, "title": null}},
     "shape": {"field": "s", "type": "nominal", "scale": {"domain": ["No Face memory", "Face memory"], "range": ["circle", "square"]}, "legend": null},
     "stroke": {"field": "s", "type": "nominal", "scale": {"domain": ["Face memory", "No Face memory"], "range": ["#1f3a68", "#4a70ae"]}, "legend": null},
     "fill": {"field": "s", "type": "nominal", "scale": {"domain": ["No Face memory", "Face memory"], "range": ["#66bec8", "#1f3a68"]}, "legend": null}}}
  ],
  "resolve": {"axis": {"x": "independent"}}
 },
 {"width": 324, "height": 190, "data": {"name": "d"},
  "title": {"text": "IT_R\u00a0\u00a0(38, -51, -14)", "dx": 51, "offset": -20},
  "transform": [{"filter": "datum.p === 'IT_R'"}],
  "encoding": {
   "x": {"field": "t", "type": "quantitative", "scale": {"domain": [0, 24], "range": [46.7, 299], "nice": false, "zero": false}},
   "y": {"field": "v", "type": "quantitative", "scale": {"domain": [-0.1, 0.7], "range": [152, 29], "nice": false, "zero": false},
     "axis": {"orient": "left", "offset": -46.7, "values": [-0.1,0,0.1,0.2,0.3,0.4,0.5,0.6,0.7], "format": ".1f", "grid": true, "gridColor": "#d9d9d9", "domain": true, "domainColor": "#bfbfbf", "ticks": false, "tickSize": 0, "labelPadding": 7, "title": "Signal Change (%)", "titleX": -37.2, "titleBaseline": "middle"}}
  },
  "layer": [
   {"mark": {"type": "errorbar", "color": "#a6a6a6", "thickness": 1, "ticks": {"size": 7}},
    "encoding": {"x": {"field": "t", "type": "quantitative", "axis": {"orient": "bottom", "labels": false, "ticks": false, "domain": false, "grid": false, "title": null}}, "yError": {"field": "se"}}},
   {"mark": {"type": "line", "strokeWidth": 2},
    "encoding": {"x": {"field": "t", "type": "quantitative",
      "axis": {"orient": "bottom", "offset": -22, "values": [0,2,4,6,8,10,12,14,16,18,20,22,24], "domain": false, "ticks": false, "tickSize": 0, "grid": false, "labelPadding": 0, "labelBaseline": "middle", "title": "|Preparation |Execution\u00a0\u00a0\u00a0\u00a0\u00a0\u00a0\u00a0\u00a0\u00a0\u00a0\u00a0\u00a0\u00a0\u00a0\u00a0\u00a0\u00a0\u00a0\u00a0\u00a0\u00a0\u00a0\u00a0Time (s)", "titleX": 43.3, "titleY": 15, "titleAlign": "left", "titleAnchor": "start", "titleBaseline": "middle"}},
     "stroke": {"field": "s", "type": "nominal", "scale": {"domain": ["Face memory", "No Face memory"], "range": ["#1f3a68", "#4a70ae"]}, "legend": null},
     "strokeDash": {"field": "s", "type": "nominal", "scale": {"domain": ["No Face memory", "Face memory"], "range": [[7,4],[1,0]]}, "legend": null}}},
   {"transform": [{"filter": "datum.sig == 0"}],
    "mark": {"type": "point", "filled": true, "fill": "white", "opacity": 1, "strokeWidth": 1.5},
    "encoding": {"x": {"field": "t", "type": "quantitative",
      "axis": {"orient": "bottom", "offset": -56.4, "values": [0,2,4,6,8,10,12,14,16,18,20,22,24], "labels": false, "domain": false, "grid": false, "ticks": true, "tickSize": 6, "tickColor": "#bfbfbf", "title": null}},
     "shape": {"field": "s", "type": "nominal", "scale": {"domain": ["No Face memory", "Face memory"], "range": ["circle", "square"]}, "legend": null},
     "stroke": {"field": "s", "type": "nominal", "scale": {"domain": ["Face memory", "No Face memory"], "range": ["#1f3a68", "#4a70ae"]}, "legend": null}}},
   {"transform": [{"filter": "datum.sig == 1"}],
    "mark": {"type": "point", "filled": true, "opacity": 1, "strokeWidth": 1.5},
    "encoding": {"x": {"field": "t", "type": "quantitative", "axis": {"orient": "bottom", "labels": false, "ticks": false, "domain": false, "grid": false, "title": null}},
     "shape": {"field": "s", "type": "nominal", "scale": {"domain": ["No Face memory", "Face memory"], "range": ["circle", "square"]}, "legend": null},
     "stroke": {"field": "s", "type": "nominal", "scale": {"domain": ["Face memory", "No Face memory"], "range": ["#1f3a68", "#4a70ae"]}, "legend": null},
     "fill": {"field": "s", "type": "nominal", "scale": {"domain": ["No Face memory", "Face memory"], "range": ["#66bec8", "#1f3a68"]}, "legend": null}}}
  ],
  "resolve": {"axis": {"x": "independent"}}
 }
], "spacing": 6, "resolve": {"scale": {"stroke": "independent", "fill": "independent", "shape": "independent", "strokeDash": "independent"}}}
]
}
